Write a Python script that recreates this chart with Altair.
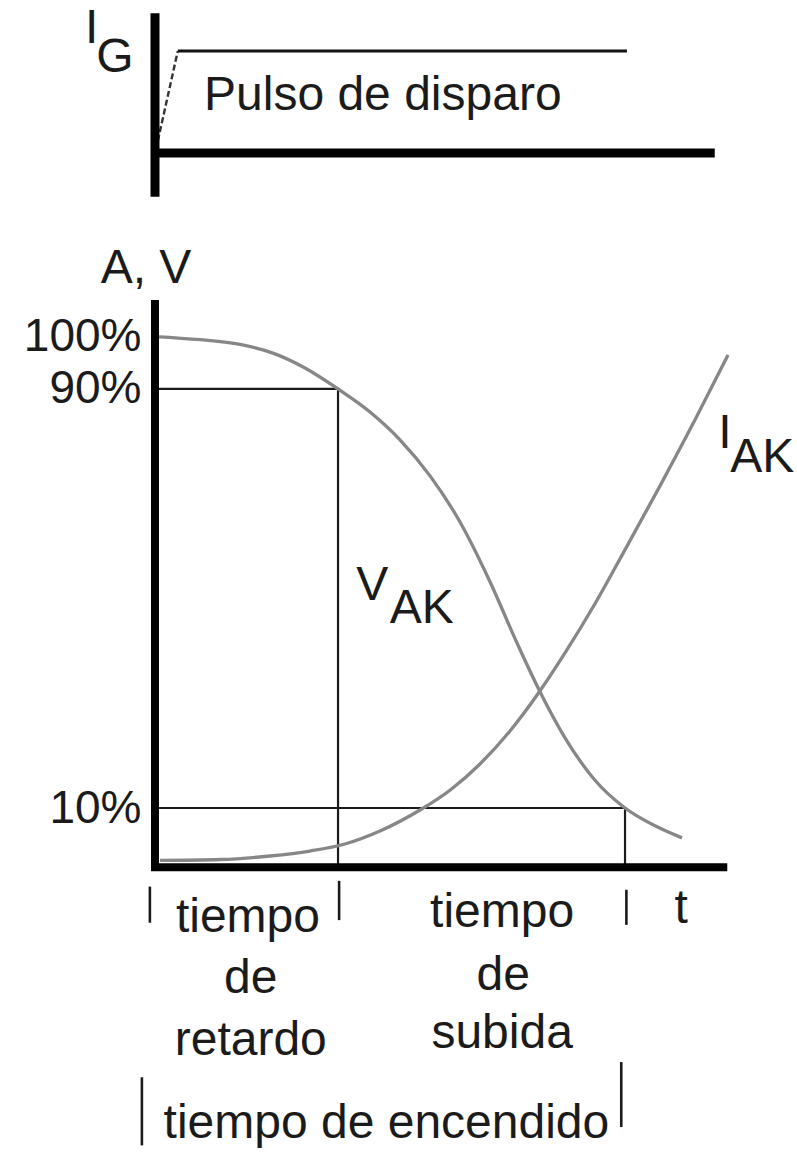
import altair as alt
import pandas as pd

FONT = "Liberation Sans"
INK = "#1b1b1b"
CURVE = "#878787"
FS = 48

# ---- main panel: time in arbitrary units, amplitude in percent ----
# V_AK falling during turn-on
t_vak = [0.0, 0.789, 1.491, 2.105, 2.632, 3.211, 3.772, 4.298, 4.825, 5.351,
         5.877, 6.351, 6.754, 7.193, 7.719, 8.246, 8.772, 9.246]
v_vak = [100.0, 99.4, 98.5, 96.7, 94.0, 90.0, 85.6, 80.3, 73.4, 64.6,
         53.2, 41.5, 32.2, 23.4, 15.3, 10.0, 6.6, 4.3]

# I_AK rising during turn-on
t_iak = [0.088, 1.140, 2.018, 2.719, 3.333, 3.947, 4.649, 5.175, 5.702,
         6.228, 6.719, 7.193, 7.719, 8.281, 8.860, 9.474, 10.053]
i_iak = [0.0, 0.17, 0.84, 1.79, 3.13, 5.61, 9.62, 13.4, 18.4,
         24.7, 31.8, 39.6, 49.0, 60.0, 71.5, 84.1, 96.5]

pct_ticks = [10, 90, 100]
T_90 = 3.211     # V_AK at 90 %  -> end of delay time
T_10 = 8.246     # V_AK at 10 %  -> end of rise time
T_END = 10.04
AXIS_Y = -1.3

# ---- gate pulse I_G (1 = pulse level) ----
gate_rise_t = [0.05, 0.40]
gate_rise_i = [0.12, 1.0]
gate_top_t = [0.40, 8.28]
GATE_AXIS_END = 9.82

# time-interval labels below the axis
lab_text = ["tiempo", "de", "retardo", "tiempo", "de", "subida", "t",
            "tiempo de encendido"]
lab_t = [1.63, 1.68, 1.68, 6.09, 6.11, 6.09, 9.23, 4.06]
lab_y = [-13.7, -25.3, -37.1, -12.7, -24.7, -35.8, -11.9, -53.0]

# interval markers "|"
tick_t = [-0.09, 3.23, 8.27, -0.23, 8.18]
tick_top = [-5.0, -3.9, -5.6, -41.4, -38.5]
tick_bot = [-11.9, -11.4, -12.3, -54.4, -50.9]

# ---------------------------------------------------------------
# layout: both diagrams share one plot area; each gets its own y scale
PLOT_W = 570
PLOT_H = 1154
GATE_PX_PER_UNIT = 102.0     # I_G = 1 spans 102 px
GATE_TOP_VALUE = 1.5         # I_G value at the top edge
PCT_PX = 5.2384              # px per percent in the main diagram
ZERO_PX = 860.4              # 0 % position from the top edge

xs = alt.Scale(domain=[0, 10], nice=False, zero=False)
ys_top = alt.Scale(domain=[GATE_TOP_VALUE - PLOT_H / GATE_PX_PER_UNIT,
                           GATE_TOP_VALUE], nice=False, zero=False)
ys_main = alt.Scale(domain=[-(PLOT_H - ZERO_PX) / PCT_PX, ZERO_PX / PCT_PX],
                    nice=False, zero=False)

y_axis = alt.Axis(values=pct_ticks, labelExpr="datum.value + '%'",
                  domain=False, ticks=False, grid=False, title=None,
                  labelFont=FONT, labelFontSize=FS - 2, labelColor=INK,
                  labelPadding=14, labelOverlap=False, labelFlush=False,
                  labelBound=False, labelBaseline="middle")


def X(f="x"):
    return alt.X(f"{f}:Q", scale=xs, axis=None)


def Y(f="y"):
    return alt.Y(f"{f}:Q", scale=ys_main, axis=y_axis)


def YT(f="y"):
    return alt.Y(f"{f}:Q", scale=ys_top, axis=None)


def seg_df(x, x2, y, y2):
    return pd.DataFrame({"x": x, "x2": x2, "y": y, "y2": y2})


curves = pd.concat([
    pd.DataFrame({"x": t_vak, "y": v_vak, "s": "V_AK"}),
    pd.DataFrame({"x": t_iak, "y": i_iak, "s": "I_AK"}),
])

curve_layer = alt.Chart(curves).mark_line(
    color=CURVE, strokeWidth=3.3, interpolate="monotone"
).encode(x=X(), y=Y(), detail="s:N")

box = seg_df([0, T_90, 0, T_10], [T_90, T_90, T_10, T_10],
             [90, 90, 10, 10], [90, AXIS_Y, 10, AXIS_Y])
box_layer = alt.Chart(box).mark_rule(color=INK, strokeWidth=2.2).encode(
    x=X(), x2="x2:Q", y=Y(), y2="y2:Q")

axes_main = seg_df([0, -0.07], [0, T_END], [107, AXIS_Y], [-2.0, AXIS_Y])
axes_layer = alt.Chart(axes_main).mark_rule(color="#000", strokeWidth=8).encode(
    x=X(), x2="x2:Q", y=Y(), y2="y2:Q")

ticks = pd.DataFrame({"x": tick_t, "y": tick_top, "y2": tick_bot})
tick_layer = alt.Chart(ticks).mark_rule(color=INK, strokeWidth=2.6).encode(
    x=X(), y=Y(), y2="y2:Q")

labels = pd.DataFrame({"x": lab_t, "y": lab_y, "text": lab_text})
label_layer = alt.Chart(labels).mark_text(
    font=FONT, fontSize=FS, color=INK, align="center", baseline="alphabetic"
).encode(x=X(), y=Y(), text="text:N")

names = pd.DataFrame({
    "x": [-0.158, 3.53, 4.12, 9.88, 10.09],
    "y": [110.2, 49.7, 45.3, 78.7, 74.2],
    "text": ["A, V", "V", "AK", "I", "AK"],
    "align": ["center", "left", "left", "left", "left"],
})
name_center = alt.Chart(names[names["align"] == "center"]).mark_text(
    font=FONT, fontSize=FS, color=INK, align="center", baseline="alphabetic"
).encode(x=X(), y=Y(), text="text:N")
name_left = alt.Chart(names[names["align"] == "left"]).mark_text(
    font=FONT, fontSize=FS, color=INK, align="left", baseline="alphabetic"
).encode(x=X(), y=Y(), text="text:N")

main = alt.layer(
    box_layer, curve_layer, axes_layer, tick_layer, label_layer,
    name_center, name_left
)

# ---- gate pulse diagram ----
gate_axes = seg_df([0, 0], [0, GATE_AXIS_END], [1.37, 0], [-0.43, 0])
gate_axes_layer = alt.Chart(gate_axes).mark_rule(color="#000", strokeWidth=9).encode(
    x=X(), x2="x2:Q", y=YT(), y2="y2:Q")

gate_top = pd.DataFrame({"x": gate_top_t, "y": [1.0, 1.0]})
gate_top_layer = alt.Chart(gate_top).mark_line(color="#111", strokeWidth=3).encode(
    x=X(), y=YT())

gate_rise = pd.DataFrame({"x": gate_rise_t, "y": gate_rise_i})
gate_rise_layer = alt.Chart(gate_rise).mark_line(
    color="#333", strokeWidth=2.4, strokeDash=[6, 3]
).encode(x=X(), y=YT())

gate_text = pd.DataFrame({
    "x": [-1.23, -1.03, 0.86],
    "y": [1.078, 0.794, 0.42],
    "text": ["I", "G", "Pulso de disparo"],
})
gate_text_layer = alt.Chart(gate_text).mark_text(
    font=FONT, fontSize=FS, color=INK, align="left", baseline="alphabetic"
).encode(x=X(), y=YT(), text="text:N")

gate = alt.layer(gate_top_layer, gate_rise_layer, gate_axes_layer,
                 gate_text_layer)

chart = alt.layer(gate, main).resolve_scale(y="independent").properties(
    width=PLOT_W, height=PLOT_H,
    padding={"left": 155, "right": 72, "top": 0, "bottom": 2},
    autosize=alt.AutoSizeParams(type="none"),
    background="white",
).configure_view(stroke=None)

chart.save("out.html", embed_options={"renderer": "svg", "actions": False})
